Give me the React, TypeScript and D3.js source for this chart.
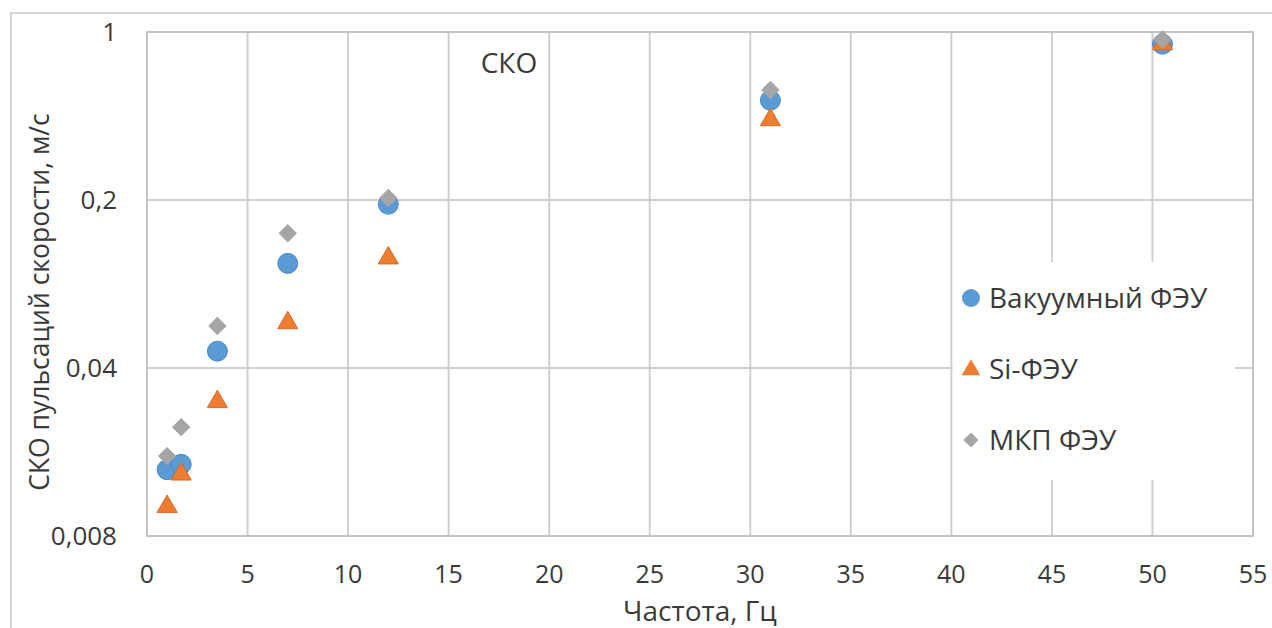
import React from "react";
import * as d3 from "d3";

// frequency, Hz
const freqs = [1.0, 1.7, 3.5, 7, 12, 31, 50.5];

const vacuumPmt = [0.0151, 0.0159, 0.047, 0.109, 0.192, 0.52, 0.89];
const siPmt = [0.0107, 0.0146, 0.0292, 0.0622, 0.1157, 0.435, 0.9];
const mcpPmt = [0.0172, 0.0227, 0.0598, 0.1455, 0.204, 0.574, 0.93];

const seriesNames = ["Вакуумный ФЭУ", "Si-ФЭУ", "МКП ФЭУ"];
const xTicks = [0, 5, 10, 15, 20, 25, 30, 35, 40, 45, 50, 55];
const yTicks = [0.008, 0.04, 0.2, 1];
const yTickLabels = ["0,008", "0,04", "0,2", "1"];

const W = 1272;
const H = 628;
const margin = { top: 32, right: 19, bottom: 92, left: 147 };
const FONT = "'Open Sans', 'Noto Sans', sans-serif";

type Shape = "circle" | "triangle" | "diamond";

const trianglePath = (size: number) => d3.symbol().type(d3.symbolTriangle).size(size)() || "";
const squarePath = (size: number) => d3.symbol().type(d3.symbolSquare).size(size)() || "";

function Marker({ shape, x, y, color, small }: { shape: Shape; x: number; y: number; color: string; small?: boolean }) {
  if (shape === "circle") {
    return <circle cx={x} cy={y} r={small ? 9 : 10} fill={color} stroke={small ? "none" : "#4a88c7"} strokeWidth={1} />;
  }
  if (shape === "triangle") {
    return (
      <path
        d={trianglePath(small ? 150 : 175)}
        transform={`translate(${x},${y + 1})`}
        fill={color}
        stroke={small ? "none" : "#d96a22"}
        strokeWidth={1}
      />
    );
  }
  return <path d={squarePath(small ? 110 : 170)} transform={`translate(${x},${y}) rotate(45)`} fill={color} />;
}

export default function App() {
  const innerW = W - margin.left - margin.right;
  const innerH = H - margin.top - margin.bottom;

  const x = d3.scaleLinear().domain([0, 55]).range([margin.left, margin.left + innerW]);
  const y = d3.scaleLog().domain([0.008, 1]).range([margin.top + innerH, margin.top]);

  const series = [
    { name: seriesNames[0], values: vacuumPmt, color: "#5B9BD5", shape: "circle" as Shape },
    { name: seriesNames[1], values: siPmt, color: "#ED7D31", shape: "triangle" as Shape },
    { name: seriesNames[2], values: mcpPmt, color: "#A5A5A5", shape: "diamond" as Shape },
  ];

  const gridColor = "#cfcfcf";
  const textColor = "#3a3a3a";

  // legend box, sits on top of the gridlines
  const legend = { x: 953, y: 262, w: 282, h: 218 };

  return (
    <div style={{ position: "fixed", left: 0, top: 0, width: W, height: H, background: "#fff" }}>
      <svg width={W} height={H} style={{ display: "block" }}>
        <rect x={11} y={13} width={W + 20} height={H + 20} fill="#fff" stroke="#d4d4d4" strokeWidth={2} />

        {/* vertical grid */}
        {xTicks.map((t) => (
          <line key={"vx" + t} x1={x(t)} x2={x(t)} y1={margin.top} y2={margin.top + innerH} stroke={gridColor} strokeWidth={2} />
        ))}
        {/* horizontal grid */}
        {yTicks.map((t) => (
          <line key={"hy" + t} x1={margin.left} x2={margin.left + innerW} y1={y(t)} y2={y(t)} stroke={gridColor} strokeWidth={2} />
        ))}
        <rect x={margin.left} y={margin.top} width={innerW} height={innerH} fill="none" stroke="#c4c4c4" strokeWidth={2} />

        {/* x tick labels */}
        {xTicks.map((t) => (
          <text key={"xt" + t} x={x(t)} y={margin.top + innerH + 47} textAnchor="middle" fontFamily={FONT} fontSize={25} fill={textColor}>
            {t}
          </text>
        ))}
        {/* y tick labels */}
        {yTicks.map((t, i) => (
          <text key={"yt" + t} x={117} y={y(t)} dy="0.35em" textAnchor="end" fontFamily={FONT} fontSize={26} fill={textColor}>
            {yTickLabels[i]}
          </text>
        ))}

        <text x={x(27.5)} y={621} textAnchor="middle" fontFamily={FONT} fontSize={28} fill={textColor}>
          Частота, Гц
        </text>
        <text
          transform={`translate(49,302) rotate(-90)`}
          textAnchor="middle"
          fontFamily={FONT}
          fontSize={26.5}
          fill={textColor}
        >
          СКО пульсаций скорости, м/с
        </text>

        <text x={x(18)} y={73} textAnchor="middle" fontFamily={FONT} fontSize={28} fill={textColor}>
          СКО
        </text>

        {/* points */}
        {series.map((s) => (
          <g key={s.name}>
            {s.values.map((v, i) => (
              <Marker key={i} shape={s.shape} x={x(freqs[i])} y={y(v)} color={s.color} />
            ))}
          </g>
        ))}

        {/* legend */}
        <rect x={legend.x} y={legend.y} width={legend.w} height={legend.h} fill="#fff" />
        {series.map((s, i) => {
          const ly = 298 + i * 71;
          return (
            <g key={"lg" + s.name}>
              <Marker shape={s.shape} x={971} y={ly} color={s.color} small />
              <text x={989} y={ly} dy="0.36em" fontFamily={FONT} fontSize={28} fill={textColor}>
                {s.name}
              </text>
            </g>
          );
        })}
      </svg>
    </div>
  );
}
